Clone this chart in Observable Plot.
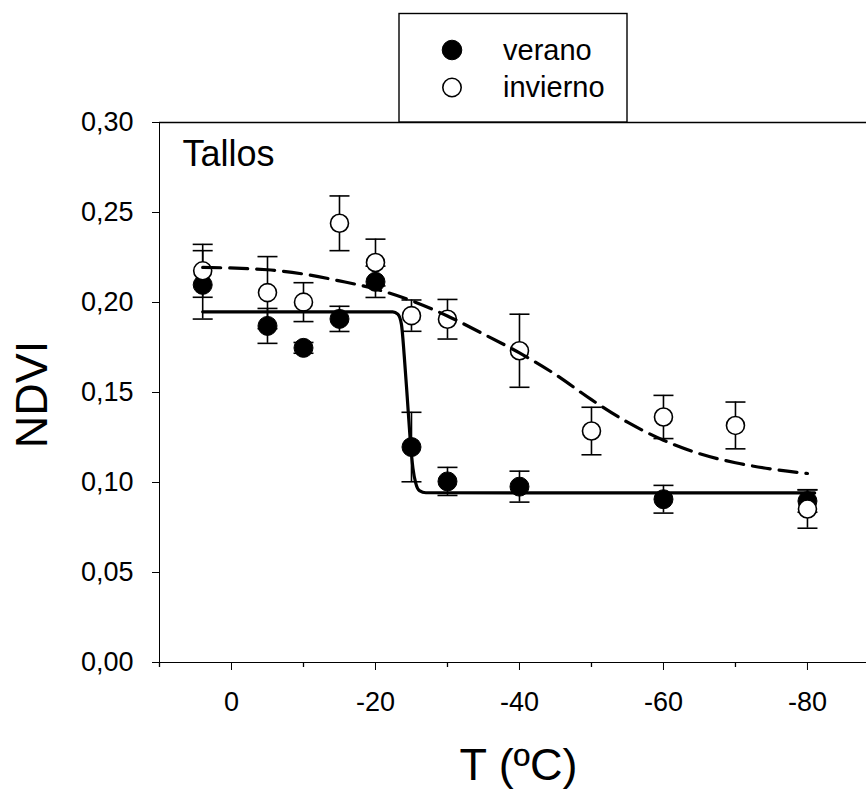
<!DOCTYPE html>
<html>
<head>
<meta charset="utf-8">
<script src="https://cdn.jsdelivr.net/npm/d3@7"></script>
<script src="https://cdn.jsdelivr.net/npm/@observablehq/plot@0.6"></script>
<style>
  body { margin: 0; background: white; }
  #wrap { position: relative; width: 866px; height: 791px; overflow: hidden; }
  #legend { position: absolute; left: 0; top: 0; pointer-events: none; }
</style>
</head>
<body>
<div id="wrap"></div>
<script>
// ---- data ----
const veranoT    = [4, -5, -10, -15, -20, -25, -30, -40, -60, -80];
const veranoNDVI = [0.2098, 0.1870, 0.1748, 0.1909, 0.2115, 0.1197, 0.1006, 0.0977, 0.0907, 0.0897];
const veranoErr  = [0.0190, 0.0097, 0.0030, 0.0070, 0.0087, 0.0193, 0.0078, 0.0086, 0.0077, 0.0062];

const inviernoT    = [4, -5, -10, -15, -20, -25, -30, -40, -50, -60, -70, -80];
const inviernoNDVI = [0.2176, 0.2055, 0.2002, 0.2440, 0.2222, 0.1927, 0.1907, 0.1732, 0.1286, 0.1364, 0.1317, 0.0853];
const inviernoErr  = [0.0147, 0.0200, 0.0108, 0.0152, 0.0130, 0.0087, 0.0110, 0.0203, 0.0132, 0.0120, 0.0130, 0.0107];

// fitted curves, points
const veranoCurveT = [4, -22.4, -23.1, -23.6, -24.0, -24.4, -24.8, -25.2, -25.6, -26.1, -27, -81];
const veranoCurveV = [0.1948, 0.1948, 0.1935, 0.1880, 0.1700, 0.1480, 0.1250, 0.1080, 0.0995, 0.0955, 0.0943, 0.0942];
const inviernoCurveT = [4, -5, -10, -15, -20, -25, -30, -35, -40, -45, -50, -55, -60, -65, -70, -75, -80];
const inviernoCurveV = [0.2195, 0.2182, 0.2158, 0.2120, 0.2075, 0.2010, 0.1925, 0.1825, 0.1720, 0.1600, 0.1460, 0.1335, 0.1235, 0.1160, 0.1110, 0.1075, 0.1050];

const xTicks = [0, -20, -40, -60, -80];
const xMinorTicks = [10, -10, -30, -50, -70];
const yTicks = [0, 0.05, 0.10, 0.15, 0.20, 0.25, 0.30];
const seriesNames = ["verano", "invierno"];
const panelLabel = "Tallos";
const xTitle = "T (ºC)";
const yTitle = "NDVI";

// ---- tables ----
const verano = veranoT.map((t, i) => ({t, v: veranoNDVI[i], e: veranoErr[i]}));
const invierno = inviernoT.map((t, i) => ({t, v: inviernoNDVI[i], e: inviernoErr[i]}));
const veranoCurve = veranoCurveT.map((t, i) => ({t, v: veranoCurveV[i]}));
const inviernoCurve = inviernoCurveT.map((t, i) => ({t, v: inviernoCurveV[i]}));
const bars = [...verano, ...invierno];

const capSymbol = {draw(ctx) { ctx.moveTo(-10, 0); ctx.lineTo(10, 0); }};
const minorTickSymbol = {draw(ctx) { ctx.moveTo(0, 0); ctx.lineTo(0, 4.5); }};

const FONT = "'Liberation Sans', Arial, Helvetica, sans-serif";

const chart = Plot.plot({
  width: 866,
  height: 791,
  marginTop: 122,
  marginLeft: 159,
  marginRight: 0,
  marginBottom: 129,
  style: {fontFamily: FONT, fontSize: "27px", background: "white", color: "black", overflow: "visible"},
  x: {
    domain: [10, -88.2],
    ticks: xTicks,
    tickFormat: d => String(d),
    tickSize: 8,
    tickPadding: 21,
    line: true,
    label: null
  },
  y: {
    domain: [0, 0.30],
    ticks: yTicks,
    tickFormat: d => d.toFixed(2).replace(".", ","),
    tickSize: 7,
    tickPadding: 19,
    line: true,
    label: null
  },
  marks: [
    Plot.ruleY([0.30], {stroke: "black", strokeWidth: 1.3}),
    Plot.dot(xMinorTicks, {x: d => d, y: () => 0, symbol: minorTickSymbol, stroke: "black", fill: "none", strokeWidth: 1.3}),
    // error bars
    Plot.ruleX(bars, {x: "t", y1: d => d.v - d.e, y2: d => d.v + d.e, stroke: "black", strokeWidth: 1.6}),
    Plot.dot(bars, {x: "t", y: d => d.v - d.e, symbol: capSymbol, stroke: "black", fill: "none", strokeWidth: 1.6}),
    Plot.dot(bars, {x: "t", y: d => d.v + d.e, symbol: capSymbol, stroke: "black", fill: "none", strokeWidth: 1.6}),
    // points
    Plot.dot(verano, {x: "t", y: "v", r: 9.5, fill: "black", stroke: "black", strokeWidth: 1}),
    Plot.dot(invierno, {x: "t", y: "v", r: 9, fill: "white", stroke: "black", strokeWidth: 1.6}),
    // fitted curves
    Plot.line(veranoCurve, {x: "t", y: "v", stroke: "black", strokeWidth: 3.2, curve: "monotone-x"}),
    Plot.line(inviernoCurve, {x: "t", y: "v", stroke: "black", strokeWidth: 3.2, strokeDasharray: "18,9", curve: "monotone-x"}),
    // texts
    Plot.text([panelLabel], {frameAnchor: "top-left", text: d => d, dx: 23, dy: 18, textAnchor: "start", lineAnchor: "top", fontSize: 36, fill: "black"}),
    Plot.text([xTitle], {frameAnchor: "bottom", text: d => d, dx: 5.5, dy: 86, textAnchor: "middle", lineAnchor: "top", fontSize: 45, fill: "black"}),
    Plot.text([yTitle], {frameAnchor: "left", text: d => d, dx: -144, dy: 2, rotate: -90, textAnchor: "middle", lineAnchor: "top", fontSize: 45, fill: "black"})
  ]
});

const wrap = document.getElementById("wrap");
wrap.appendChild(chart);

// legend (drawn on top, above the plot frame)
const ns = "http://www.w3.org/2000/svg";
const leg = document.createElementNS(ns, "svg");
leg.setAttribute("id", "legend");
leg.setAttribute("width", 866);
leg.setAttribute("height", 130);
const box = document.createElementNS(ns, "rect");
box.setAttribute("x", 399); box.setAttribute("y", 13.5);
box.setAttribute("width", 228); box.setAttribute("height", 108.5);
box.setAttribute("fill", "white"); box.setAttribute("stroke", "black"); box.setAttribute("stroke-width", 1.4);
leg.appendChild(box);
const rows = [{cy: 50, tb: 59.5, fill: "black"}, {cy: 87.5, tb: 97, fill: "white"}];
seriesNames.forEach((name, i) => {
  const c = document.createElementNS(ns, "circle");
  c.setAttribute("cx", 452); c.setAttribute("cy", rows[i].cy); c.setAttribute("r", i === 0 ? 9.8 : 9.2);
  c.setAttribute("fill", rows[i].fill); c.setAttribute("stroke", "black"); c.setAttribute("stroke-width", i === 0 ? 1 : 1.6);
  leg.appendChild(c);
  const t = document.createElementNS(ns, "text");
  t.setAttribute("x", 503); t.setAttribute("y", rows[i].tb);
  t.setAttribute("font-family", FONT); t.setAttribute("font-size", 29);
  t.setAttribute("fill", "black");
  t.textContent = name;
  leg.appendChild(t);
});
wrap.appendChild(leg);
</script>
</body>
</html>
